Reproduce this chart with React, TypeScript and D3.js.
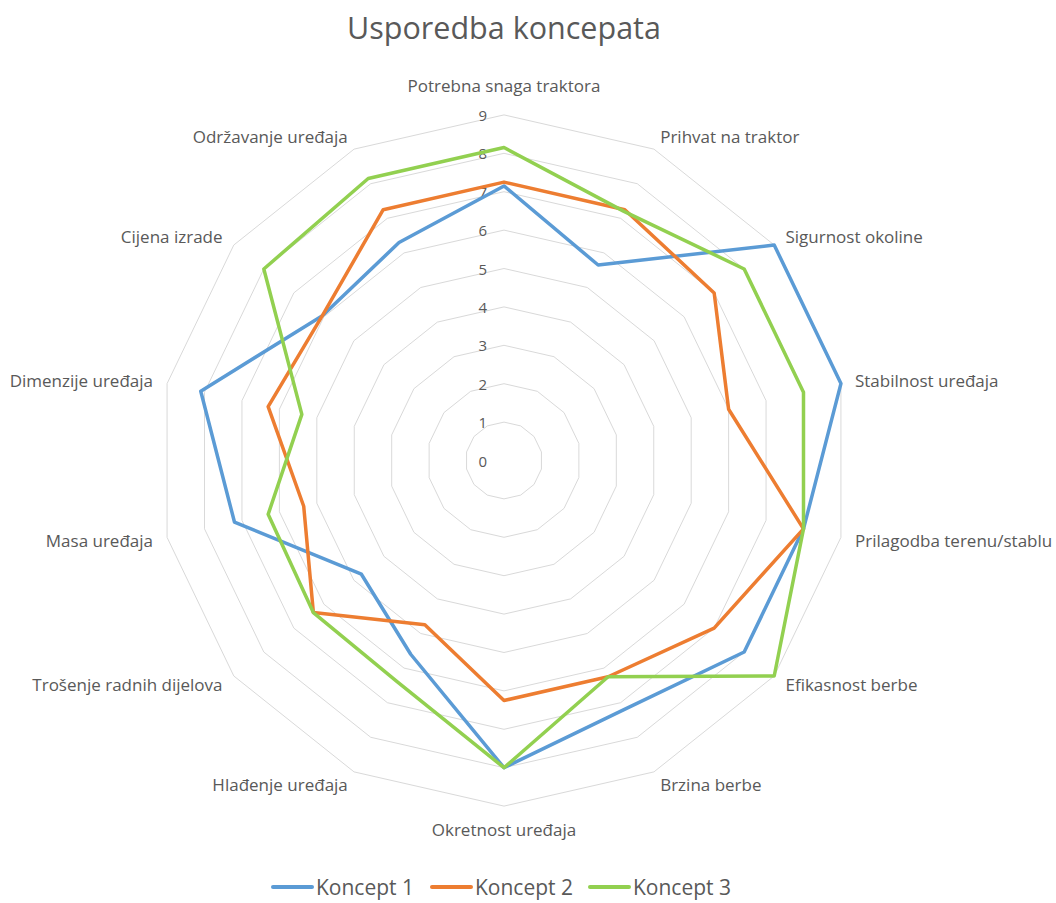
import React from 'react';
import * as d3 from 'd3';

// Criteria evaluated for each concept, clockwise from the top
const categories = [
  'Potrebna snaga traktora',
  'Prihvat na traktor',
  'Sigurnost okoline',
  'Stabilnost uređaja',
  'Prilagodba terenu/stablu',
  'Efikasnost berbe',
  'Brzina berbe',
  'Okretnost uređaja',
  'Hlađenje uređaja',
  'Trošenje radnih dijelova',
  'Masa uređaja',
  'Dimenzije uređaja',
  'Cijena izrade',
  'Održavanje uređaja',
];

const koncept1 = [7.15, 5.65, 9, 9, 8, 8, 7.2, 8, 5.6, 4.75, 7.2, 8.1, 6.05, 6.3];
const koncept2 = [7.25, 7.25, 7, 6, 8, 7, 6.25, 6.25, 4.75, 6.35, 5.35, 6.3, 6.05, 7.25];
const koncept3 = [8.15, 7.2, 8, 8, 8, 9, 6.25, 8, 6.4, 6.35, 6.3, 5.4, 8, 8.15];

const seriesNames = ['Koncept 1', 'Koncept 2', 'Koncept 3'];
const seriesColors = ['#5B9BD5', '#ED7D31', '#92D050'];
const tickValues = [0, 1, 2, 3, 4, 5, 6, 7, 8, 9];

const W = 1056;
const H = 903;
const cx = 504;
const cy = 460.5;
const R = 345.6;
const labelR = 360;
const textColor = '#595959';
const font = '"Open Sans", "Noto Sans", sans-serif';

const n = categories.length;
const angleOf = (i: number) => (i * 2 * Math.PI) / n;
const rScale = d3.scaleLinear().domain([0, 9]).range([0, R]);

const radial = d3
  .lineRadial<number>()
  .angle((_d, i) => angleOf(i))
  .radius((d) => rScale(d))
  .curve(d3.curveLinearClosed);

export default function App() {
  const series = [koncept1, koncept2, koncept3];
  const legendX = [273, 432, 590];

  return (
    <svg
      width={W}
      height={H}
      style={{ position: 'absolute', left: 0, top: 0, background: '#fff' }}
      fontFamily={font}
    >
      <rect width={W} height={H} fill="#fff" />
      <text x={504} y={27} textAnchor="middle" dominantBaseline="central" fontSize={30.5} fill={textColor}>
        Usporedba koncepata
      </text>

      <g transform={`translate(${cx},${cy})`}>
        {tickValues.slice(1).map((t) => (
          <path
            key={t}
            d={radial(new Array(n).fill(t)) || ''}
            fill="none"
            stroke="#D9D9D9"
            strokeWidth={1}
          />
        ))}
        {tickValues.map((t) => (
          <text
            key={t}
            x={-17}
            y={-rScale(t)}
            textAnchor="end"
            dominantBaseline="central"
            fontSize={15}
            fill={textColor}
          >
            {t}
          </text>
        ))}
        {series.map((s, k) => (
          <path
            key={k}
            d={radial(s) || ''}
            fill="none"
            stroke={seriesColors[k]}
            strokeWidth={3.5}
            strokeLinejoin="round"
          />
        ))}
        {categories.map((c, i) => {
          const a = angleOf(i);
          const sx = Math.sin(a);
          const cyos = Math.cos(a);
          const x = labelR * sx;
          let y = -labelR * cyos;
          const anchor: 'start' | 'middle' | 'end' = sx > 0.01 ? 'start' : sx < -0.01 ? 'end' : 'middle';
          if (anchor === 'middle') y += cyos > 0 ? -15 : 9;
          return (
            <text
              key={c}
              x={x}
              y={y}
              textAnchor={anchor}
              dominantBaseline="central"
              fontSize={17}
              fill={textColor}
            >
              {c}
            </text>
          );
        })}
      </g>

      <g>
        {seriesNames.map((name, k) => (
          <g key={name} transform={`translate(${legendX[k]},887)`}>
            <line x1={0} x2={39} y1={0} y2={0} stroke={seriesColors[k]} strokeWidth={4} strokeLinecap="round" />
            <text x={43} y={0} dominantBaseline="central" fontSize={21} fill={textColor}>
              {name}
            </text>
          </g>
        ))}
      </g>
    </svg>
  );
}
